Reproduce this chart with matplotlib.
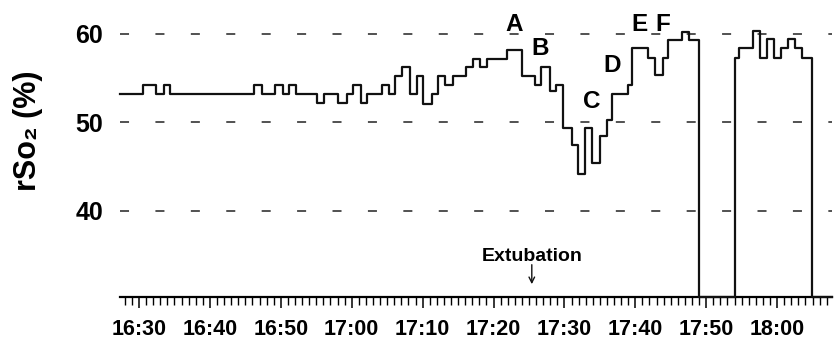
import matplotlib
matplotlib.use('Agg')
import matplotlib.pyplot as plt
import numpy as np

plt.rcParams['font.family'] = ['Liberation Sans', 'DejaVu Sans']
plt.rcParams['font.weight'] = 'bold'
plt.rcParams['lines.scale_dashes'] = False

# minutos depois das 16:00 onde cada degrau começa, e rSO2 (%)
t_min = [27.32, 30.56, 32.40, 33.46, 34.44, 46.22, 47.31, 49.18, 50.24, 51.16,
         52.21, 55.06, 56.09, 58.11, 59.29, 60.23, 61.27, 62.20, 64.23, 65.30,
         66.11, 67.05, 68.22, 69.17, 70.10, 71.28, 72.10, 73.16, 74.22, 76.12,
         77.11, 78.10, 79.08, 81.90, 83.95, 85.85, 86.70, 87.90, 88.82, 89.85,
         91.03, 91.96, 92.91, 93.85, 95.02, 95.97, 96.78, 98.90, 99.60, 101.79,
         102.78, 103.86, 104.65, 106.54, 107.62, 108.98, 113.99, 114.67, 116.64,
         117.59, 118.62, 119.56, 120.51, 121.58, 122.52, 123.47, 124.85]
rso2 = [53.2, 54.2, 53.2, 54.2, 53.2, 54.2, 53.2, 54.2, 53.2, 54.2,
        53.2, 52.2, 53.2, 52.2, 53.2, 54.2, 52.2, 53.2, 54.2, 53.2,
        55.2, 56.3, 53.2, 55.2, 52.1, 53.2, 55.2, 54.2, 55.2, 56.3,
        57.2, 56.3, 57.2, 58.2, 55.2, 54.2, 56.3, 53.5, 54.2, 49.4,
        47.4, 44.2, 49.4, 45.4, 48.4, 50.3, 53.2, 54.2, 58.4, 57.3,
        55.3, 57.3, 59.3, 60.2, 59.3, 30.25, 57.3, 58.4, 60.3,
        57.3, 59.4, 57.3, 58.4, 59.4, 58.4, 57.3, 30.25]
t_fim = 127.74

tick_min = [30, 40, 50, 60, 70, 80, 90, 100, 110, 120]
tick_lab = ['16:30', '16:40', '16:50', '17:00', '17:10',
            '17:20', '17:30', '17:40', '17:50', '18:00']
grade = [40, 50, 60]

letras = ['A', 'B', 'C', 'D', 'E', 'F']
letra_t = [82.9, 86.6, 93.8, 96.7, 100.6, 103.9]
letra_v = [61.1, 58.3, 52.3, 56.4, 61.1, 61.1]

extub_t = 85.4

fig = plt.figure(figsize=(8.35, 3.42), dpi=100)
ax = fig.add_axes([120/835, 45/342, 712/835, 297/342])

for g in grade:
    ax.axhline(g, color='#222222', lw=1.1, linestyle=(0, (6.5, 19.0)), zorder=1)

ax.step(t_min + [t_fim], rso2 + [rso2[-1]], where='post',
        color='#111111', lw=1.6, clip_on=False, zorder=3)

ax.set_xlim(27.32, 127.74)
ax.set_ylim(30.25, 63.82)

ax.set_xticks(tick_min)
ax.set_xticklabels(tick_lab, fontsize=15.5, fontweight='bold')
ax.set_xticks(np.arange(28, 128), minor=True)
ax.tick_params(axis='x', which='major', length=8, width=1.1, pad=8, direction='out')
ax.tick_params(axis='x', which='minor', length=5.5, width=1.0, direction='out')

ax.set_yticks(grade)
ax.set_yticklabels([str(g) for g in grade], fontsize=18, fontweight='bold')
ax.tick_params(axis='y', length=0, pad=12)

for s in ['left', 'top', 'right']:
    ax.spines[s].set_visible(False)
ax.spines['bottom'].set_linewidth(1.6)

ax.set_ylabel('rSo₂ (%)', fontsize=22, fontweight='bold')
ax.yaxis.set_label_coords(-0.108, 0.56)

for l, t, v in zip(letras, letra_t, letra_v):
    ax.text(t, v, l, fontsize=17.5, fontweight='bold', ha='center', va='center')

ax.text(extub_t, 34.8, 'Extubation', ha='center', va='center',
        fontsize=14, fontweight='bold')
ax.annotate('', xy=(extub_t, 31.7), xytext=(extub_t, 33.9),
            arrowprops=dict(arrowstyle='->', color='#111111', lw=1.0,
                            shrinkA=0, shrinkB=0))

fig.savefig('out.png', dpi=100)
